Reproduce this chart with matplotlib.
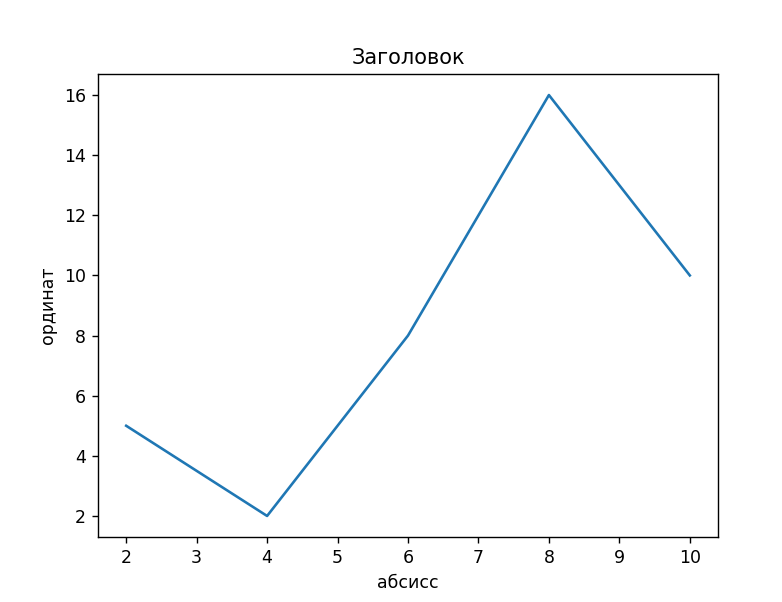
import matplotlib
matplotlib.use("Agg")
import matplotlib.pyplot as plt

x = [2, 4, 6, 8, 10]
y = [5, 2, 8, 16, 10]

# screenshot is a default figure shown at ~125 dpi
fig = plt.figure(figsize=(782 / 125, 602 / 125), dpi=125)
ax = fig.add_axes([98 / 782, 1 - 537 / 602, (718 - 98) / 782, (537 - 74) / 602])
ax.plot(x, y)
ax.set_title('Заголовок')
ax.set_xlabel('абсисс')
ax.set_ylabel('ординат')

fig.savefig('out.png', dpi=125)
